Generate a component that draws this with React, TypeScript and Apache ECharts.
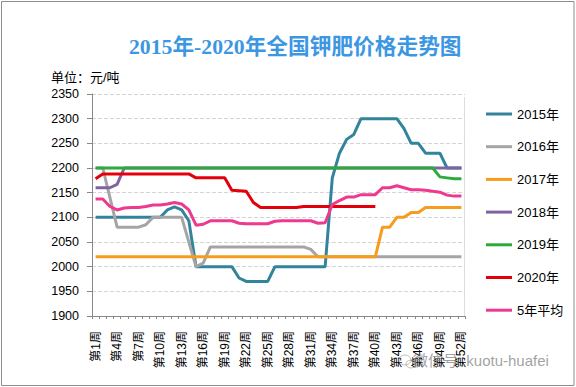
import React, { useEffect, useRef } from "react";
import * as echarts from "echarts";

const weeks: string[] = Array.from({ length: 52 }, (_, i) => `第${i + 1}周`);

const seriesNames = ["2015年", "2016年", "2017年", "2018年", "2019年", "2020年", "5年平均"];
const seriesColors = ["#31849b", "#a5a5a5", "#f79c1c", "#8064a2", "#2caa3c", "#e3000b", "#ee3a8e"];

const y2015 = [
  2100, 2100, 2100, 2100, 2100, 2100, 2100, 2100, 2100, 2100,
  2115, 2121, 2115, 2093, 2000, 2000, 2000, 2000, 2000, 2000,
  1977, 1970, 1970, 1970, 1970, 2000, 2000, 2000, 2000, 2000,
  2000, 2000, 2000, 2180, 2230, 2258, 2268, 2300, 2300, 2300,
  2300, 2300, 2300, 2280, 2250, 2250, 2230, 2230, 2230, 2200,
  2200, 2200,
];
const y2016 = [
  2200, 2200, 2140, 2080, 2080, 2080, 2080, 2085, 2100, 2100,
  2100, 2100, 2100, 2050, 2000, 2007, 2040, 2040, 2040, 2040,
  2040, 2040, 2040, 2040, 2040, 2040, 2040, 2040, 2040, 2040,
  2035, 2020, 2020, 2020, 2020, 2020, 2020, 2020, 2020, 2020,
  2020, 2020, 2020, 2020, 2020, 2020, 2020, 2020, 2020, 2020,
  2020, 2020,
];
const y2017 = [
  2020, 2020, 2020, 2020, 2020, 2020, 2020, 2020, 2020, 2020,
  2020, 2020, 2020, 2020, 2020, 2020, 2020, 2020, 2020, 2020,
  2020, 2020, 2020, 2020, 2020, 2020, 2020, 2020, 2020, 2020,
  2020, 2020, 2020, 2020, 2020, 2020, 2020, 2020, 2020, 2020,
  2080, 2080, 2100, 2100, 2110, 2110, 2120, 2120, 2120, 2120,
  2120, 2120,
];
const y2018 = [
  2160, 2160, 2160, 2167, 2200, 2200, 2200, 2200, 2200, 2200,
  2200, 2200, 2200, 2200, 2200, 2200, 2200, 2200, 2200, 2200,
  2200, 2200, 2200, 2200, 2200, 2200, 2200, 2200, 2200, 2200,
  2200, 2200, 2200, 2200, 2200, 2200, 2200, 2200, 2200, 2200,
  2200, 2200, 2200, 2200, 2200, 2200, 2200, 2200, 2200, 2200,
  2200, 2200,
];
const y2019 = [
  2200, 2200, 2200, 2200, 2200, 2200, 2200, 2200, 2200, 2200,
  2200, 2200, 2200, 2200, 2200, 2200, 2200, 2200, 2200, 2200,
  2200, 2200, 2200, 2200, 2200, 2200, 2200, 2200, 2200, 2200,
  2200, 2200, 2200, 2200, 2200, 2200, 2200, 2200, 2200, 2200,
  2200, 2200, 2200, 2200, 2200, 2200, 2200, 2200, 2182, 2180,
  2178, 2178,
];
const y2020 = [
  2178, 2188, 2188, 2188, 2188, 2188, 2188, 2188, 2188, 2188,
  2188, 2188, 2188, 2188, 2180, 2180, 2180, 2180, 2180, 2155,
  2154, 2153, 2130, 2120, 2120, 2120, 2120, 2120, 2120, 2122,
  2122, 2122, 2122, 2122, 2122, 2122, 2122, 2122, 2122, 2122,
  null, null, null, null, null, null, null, null, null, null,
  null, null,
];
const yAvg = [
  2137, 2137, 2122, 2115, 2119, 2120, 2120, 2122, 2125, 2125,
  2127, 2130, 2127, 2115, 2084, 2086, 2093, 2093, 2093, 2093,
  2088, 2087, 2087, 2087, 2087, 2092, 2093, 2093, 2093, 2093,
  2093, 2088, 2089, 2126, 2134, 2141, 2141, 2146, 2146, 2146,
  2160, 2160, 2164, 2160, 2156, 2156, 2155, 2153, 2151, 2145,
  2143, 2143,
];

const allData = [y2015, y2016, y2017, y2018, y2019, y2020, yAvg];

const SANS = "'Liberation Sans', 'Noto Sans CJK SC', sans-serif";

export default function App() {
  const ref = useRef<HTMLDivElement>(null);
  useEffect(() => {
    if (!ref.current) return;
    const chart = echarts.init(ref.current, undefined, { renderer: "svg" });
    chart.setOption({
      animation: false,
      backgroundColor: "#ffffff",
      title: {
        text: "2015年-2020年全国钾肥价格走势图",
        left: 124,
        top: 31,
        textStyle: {
          color: "#3c97e3",
          fontSize: 21.7,
          fontWeight: "bold",
          fontFamily: "'Liberation Serif', 'Noto Sans CJK SC', serif",
        },
      },
      graphic: [
        {
          type: "rect",
          shape: { x: 1.5, y: 1.5, width: 572.5, height: 384 },
          style: { fill: "none", stroke: "#8c8c8c", lineWidth: 1 },
          silent: true,
        },
        {
          type: "text",
          left: 51,
          top: 71,
          style: { text: "单位：元/吨", fill: "#000", font: `13px ${SANS}` },
        },
        {
          type: "line",
          shape: { x1: 464.5, y1: 97, x2: 464.5, y2: 316 },
          style: { stroke: "#dddddd", lineWidth: 1 },
          silent: true,
        },
        {
          type: "ellipse",
          shape: { cx: 405, cy: 360, rx: 6, ry: 5 },
          style: { fill: "none", stroke: "rgba(150,150,150,0.6)", lineWidth: 1 },
          z: 100,
        },
        {
          type: "ellipse",
          shape: { cx: 411, cy: 364, rx: 5, ry: 4 },
          style: { fill: "none", stroke: "rgba(150,150,150,0.6)", lineWidth: 1 },
          z: 100,
        },
        {
          type: "text",
          left: 413,
          top: 353,
          z: 100,
          style: {
            text: "微信号: kuotu-huafei",
            fill: "rgba(130,130,130,0.75)",
            font: `15px ${SANS}`,
          },
        },
      ],
      legend: {
        orient: "vertical",
        left: 481,
        top: 102,
        itemWidth: 26,
        itemHeight: 3,
        itemGap: 18.7,
        icon: "rect",
        data: seriesNames,
        textStyle: { color: "#000", fontSize: 13, lineHeight: 14, fontFamily: SANS },
      },
      grid: { left: 92, right: 111, top: 94, bottom: 71, containLabel: false },
      xAxis: {
        type: "category",
        data: weeks,
        boundaryGap: true,
        axisLine: { lineStyle: { color: "#888", width: 1 } },
        axisTick: { show: true, interval: 0, length: 3, lineStyle: { color: "#888" } },
        axisLabel: {
          interval: 2,
          rotate: 90,
          margin: 15,
          color: "#000",
          fontSize: 12,
          fontFamily: SANS,
        },
        splitLine: { show: false },
      },
      yAxis: {
        type: "value",
        min: 1900,
        max: 2350,
        interval: 50,
        axisLine: { show: true, lineStyle: { color: "#888", width: 1 } },
        axisTick: { show: true, length: 5, lineStyle: { color: "#888" } },
        axisLabel: {
          color: "#000",
          fontSize: 12.5,
          margin: 13,
          fontFamily: SANS,
          formatter: (v: number) => String(v),
        },
        splitLine: { show: true, lineStyle: { color: "#d4d4d4", type: "dashed", width: 1 } },
      },
      series: seriesNames.map((name, i) => ({
        name,
        type: "line",
        data: allData[i],
        showSymbol: false,
        symbol: "none",
        connectNulls: false,
        lineStyle: { color: seriesColors[i], width: 3 },
        itemStyle: { color: seriesColors[i] },
        z: 2 + i,
      })),
    });
    return () => chart.dispose();
  }, []);
  return <div ref={ref} style={{ width: 576, height: 387, position: "absolute", left: 0, top: 0 }} />;
}
